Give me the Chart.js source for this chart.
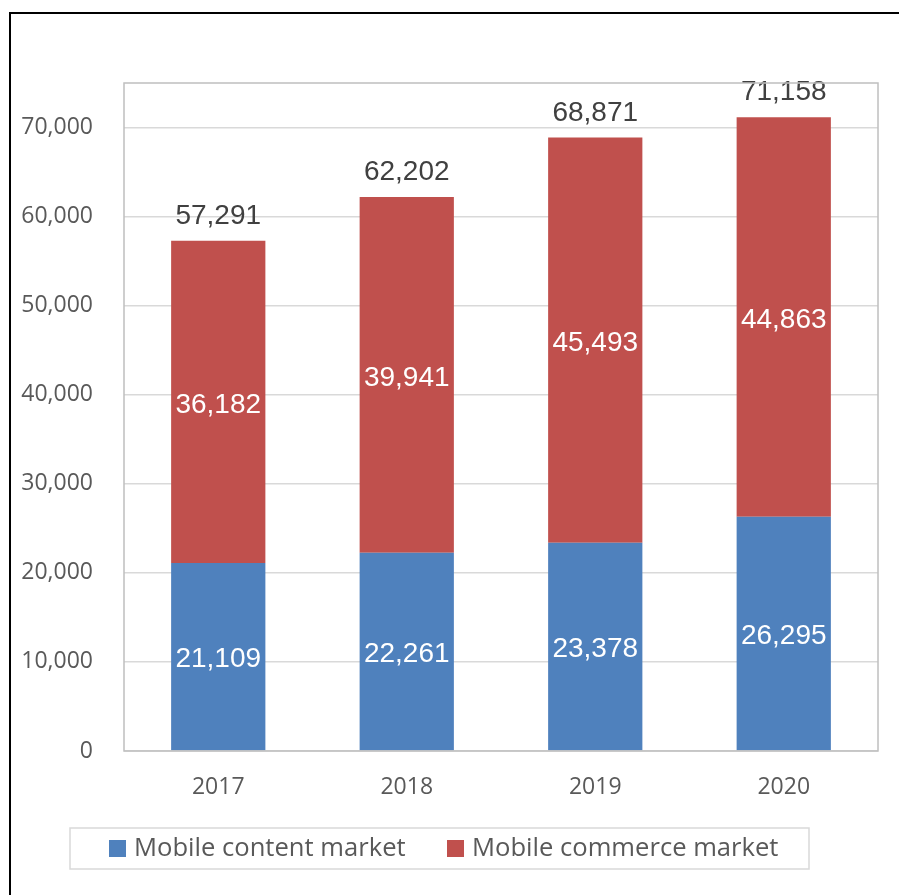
<!DOCTYPE html>
<html lang="en">
<head>
<meta charset="UTF-8">
<title>Mobile market size</title>
<script src="https://cdn.jsdelivr.net/npm/chart.js@4.4.0/dist/chart.umd.min.js"></script>
<style>
  html, body { margin: 0; padding: 0; overflow: hidden; background: #fff; }
  #frame { position: absolute; left: 9px; top: 12px; width: 1000px; height: 1000px;
           border-left: 2px solid #000; border-top: 2px solid #000; }
  #wrap { position: absolute; left: 0; top: 0; width: 899px; height: 895px; }
</style>
</head>
<body>
<div id="frame"></div>
<div id="wrap"><canvas id="market"></canvas></div>
<script>
const years = ["2017", "2018", "2019", "2020"]
const contentMarket = [21109, 22261, 23378, 26295]
const commerceMarket = [36182, 39941, 45493, 44863]
const totals = [57291, 62202, 68871, 71158]
const seriesNames = ["Mobile content market", "Mobile commerce market"]
const yTicks = [0, 10000, 20000, 30000, 40000, 50000, 60000, 70000]

const blue = "#4F81BD"
const red = "#C0504D"
const fmt = v => v.toLocaleString("en-US")

// value labels inside each segment and the totals above the stacks
const barLabels = {
  id: "barLabels",
  afterDatasetsDraw(chart) {
    const ctx = chart.ctx
    ctx.save()
    ctx.font = '28px "Liberation Sans", Arial, sans-serif'
    ctx.textAlign = "center"
    ctx.textBaseline = "middle"
    ctx.fillStyle = "#fff"
    chart.data.datasets.forEach((ds, i) => {
      chart.getDatasetMeta(i).data.forEach((bar, j) => {
        ctx.fillText(fmt(ds.data[j]), bar.x, (bar.y + bar.base) / 2 + 3)
      })
    })
    ctx.fillStyle = "#404040"
    ctx.textBaseline = "alphabetic"
    totals.forEach((t, j) => {
      const x = chart.scales.x.getPixelForValue(j)
      ctx.fillText(fmt(t), x, chart.scales.y.getPixelForValue(t) - 17)
    })
    ctx.restore()
  }
}

// plot border and boxed legend
const frameAndLegend = {
  id: "frameAndLegend",
  afterDraw(chart) {
    const ctx = chart.ctx
    const a = chart.chartArea
    ctx.save()
    ctx.strokeStyle = "#BFBFBF"
    ctx.lineWidth = 1.5
    ctx.strokeRect(a.left, a.top, a.right - a.left, a.bottom - a.top)

    ctx.strokeStyle = "#D9D9D9"
    ctx.lineWidth = 1.5
    ctx.strokeRect(70, 828, 739, 41)
    ctx.font = '25.6px "Open Sans", sans-serif'
    ctx.textBaseline = "middle"
    ctx.textAlign = "left"
    const items = [[109, blue, seriesNames[0]], [447, red, seriesNames[1]]]
    items.forEach(([x, col, name]) => {
      ctx.fillStyle = col
      ctx.fillRect(x, 840, 17, 17)
      ctx.fillStyle = "#595959"
      ctx.fillText(name, x + 25, 849)
    })
    ctx.restore()
  }
}

new Chart("market", {
  type: "bar",
  data: {
    labels: years,
    datasets: [
      { label: seriesNames[0], data: contentMarket, backgroundColor: blue },
      { label: seriesNames[1], data: commerceMarket, backgroundColor: red }
    ]
  },
  options: {
    responsive: true,
    maintainAspectRatio: false,
    animation: false,
    layout: { padding: { top: 83, right: 21, bottom: 0, left: 0 } },
    plugins: {
      legend: { display: false },
      tooltip: { enabled: false }
    },
    datasets: { bar: { barPercentage: 0.5, categoryPercentage: 1.0 } },
    scales: {
      x: {
        stacked: true,
        grid: { display: false },
        border: { display: false },
        ticks: { color: "#595959", padding: 15, font: { family: "Open Sans", size: 23 } },
        afterFit(s) { s.height = 144 }
      },
      y: {
        stacked: true,
        min: 0,
        max: 75000,
        grid: { color: "#D9D9D9", lineWidth: 1.5, drawTicks: false },
        border: { display: false },
        ticks: {
          padding: 31,
          color: "#595959",
          font: { family: "Open Sans", size: 23 },
          callback: v => fmt(v)
        },
        afterBuildTicks(s) { s.ticks = yTicks.map(v => ({ value: v })) },
        afterFit(s) { s.width = 124 }
      }
    }
  },
  plugins: [barLabels, frameAndLegend]
})
</script>
</body>
</html>
